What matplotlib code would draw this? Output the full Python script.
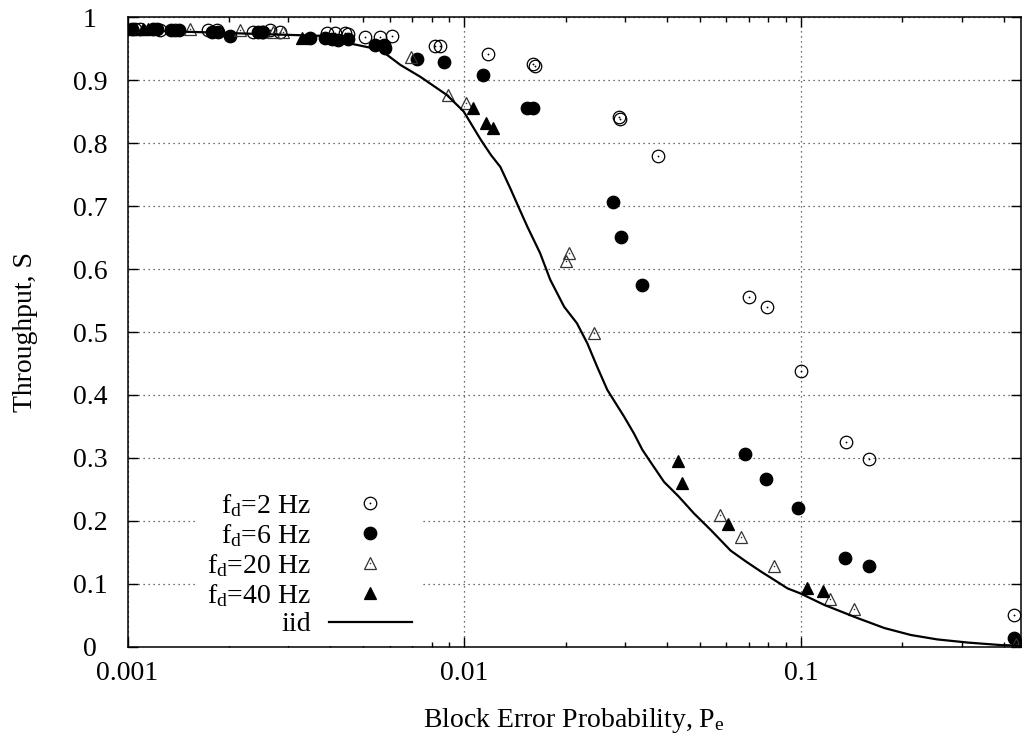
import numpy as np
import matplotlib
matplotlib.use("Agg")
import matplotlib.pyplot as plt
from matplotlib.legend_handler import HandlerTuple
from matplotlib.ticker import LogLocator, NullFormatter, FixedLocator

plt.rcParams['font.family'] = ['Liberation Serif', 'DejaVu Serif']
plt.rcParams['mathtext.fontset'] = 'custom'
plt.rcParams['mathtext.rm'] = 'Liberation Serif'
plt.rcParams['font.size'] = 20

pe_2hz = [0.00105, 0.00109, 0.00125, 0.00138, 0.00173, 0.00184, 0.00236, 0.00251,
          0.00265, 0.00284, 0.00391, 0.00414, 0.00443, 0.00453, 0.00508, 0.00563,
          0.00610, 0.00821, 0.00849, 0.0118, 0.0160, 0.0162, 0.0288, 0.0290,
          0.0377, 0.0703, 0.0791, 0.100, 0.136, 0.159, 0.430]
s_2hz = [0.981, 0.981, 0.979, 0.979, 0.979, 0.979, 0.977, 0.977,
         0.979, 0.977, 0.974, 0.974, 0.974, 0.973, 0.969, 0.969,
         0.970, 0.954, 0.954, 0.941, 0.925, 0.922, 0.842, 0.838,
         0.780, 0.556, 0.539, 0.438, 0.325, 0.298, 0.050]

pe_6hz = [0.00103, 0.00119, 0.00122, 0.00135, 0.00142, 0.00178, 0.00186, 0.00202,
          0.00244, 0.00253, 0.00349, 0.00386, 0.00404, 0.00423, 0.00453, 0.00544,
          0.00576, 0.00582, 0.00724, 0.00868, 0.0114, 0.0154, 0.0160, 0.0277,
          0.0292, 0.0336, 0.0680, 0.0789, 0.0982, 0.135, 0.159, 0.430]
s_6hz = [0.981, 0.981, 0.981, 0.979, 0.979, 0.977, 0.977, 0.970,
         0.976, 0.976, 0.967, 0.966, 0.965, 0.963, 0.965, 0.956,
         0.956, 0.951, 0.934, 0.929, 0.908, 0.856, 0.856, 0.707,
         0.651, 0.575, 0.307, 0.266, 0.220, 0.141, 0.129, 0.014]

pe_20hz = [0.00153, 0.00216, 0.00271, 0.00290, 0.00696, 0.00895, 0.0101, 0.0201,
           0.0205, 0.0243, 0.0573, 0.0662, 0.0831, 0.122, 0.144, 0.436]
s_20hz = [0.981, 0.979, 0.977, 0.977, 0.937, 0.876, 0.863, 0.613,
          0.626, 0.499, 0.209, 0.174, 0.129, 0.076, 0.061, 0.005]

pe_40hz = [0.00100, 0.00111, 0.00115, 0.00330, 0.0106, 0.0116, 0.0122, 0.0431,
           0.0444, 0.0608, 0.104, 0.116, 0.453]
s_40hz = [0.981, 0.981, 0.981, 0.967, 0.855, 0.832, 0.824, 0.295,
          0.260, 0.195, 0.094, 0.089, 0.004]

pe_iid = [0.00100, 0.00164, 0.00248, 0.00381, 0.00458, 0.00563, 0.00646, 0.00741,
          0.00889, 0.00996, 0.0112, 0.0120, 0.0128, 0.0137, 0.0147, 0.0154,
          0.0168, 0.0180, 0.0198, 0.0216, 0.0232, 0.0248, 0.0266, 0.0298,
          0.0319, 0.0338, 0.0357, 0.0392, 0.0433, 0.0481, 0.0539, 0.0618,
          0.0685, 0.0759, 0.0841, 0.0912, 0.0996, 0.117, 0.147, 0.177,
          0.212, 0.254, 0.313, 0.393, 0.450]
s_iid = [0.979, 0.976, 0.973, 0.970, 0.958, 0.948, 0.924, 0.905,
         0.876, 0.850, 0.805, 0.781, 0.762, 0.728, 0.691, 0.667,
         0.625, 0.583, 0.540, 0.514, 0.482, 0.445, 0.408, 0.366,
         0.339, 0.313, 0.294, 0.262, 0.239, 0.212, 0.186, 0.153,
         0.136, 0.120, 0.105, 0.093, 0.085, 0.067, 0.046, 0.030,
         0.019, 0.012, 0.007, 0.003, 0.002]

xticks = [0.001, 0.01, 0.1]
xtick_labels = ['0.001', '0.01', '0.1']
yticks = [0, 0.1, 0.2, 0.3, 0.4, 0.5, 0.6, 0.7, 0.8, 0.9, 1.0]
ytick_labels = ['0', '0.1', '0.2', '0.3', '0.4', '0.5', '0.6', '0.7', '0.8', '0.9', '1']

fig = plt.figure(figsize=(10.26, 7.40), dpi=100)
ax = fig.add_subplot(111)
fig.subplots_adjust(left=0.1243, right=0.9951, bottom=0.1257, top=0.977)

ms = 9
mew = 0.9
h2a, = ax.plot(pe_2hz, s_2hz, 'o', ms=ms, mfc='none', mec='black', mew=mew)
h2b, = ax.plot(pe_2hz, s_2hz, 'o', ms=1.3, mfc='black', mec='black', mew=0)
h6, = ax.plot(pe_6hz, s_6hz, 'o', ms=ms, mfc='black', mec='black', mew=mew)
h20a, = ax.plot(pe_20hz, s_20hz, '^', ms=ms - 0.5, mfc='none', mec='#333333', mew=mew)
h20b, = ax.plot(pe_20hz, s_20hz, 'o', ms=1.1, mfc='#333333', mec='#333333', mew=0)
h40, = ax.plot(pe_40hz, s_40hz, '^', ms=ms - 0.5, mfc='black', mec='black', mew=mew)
hiid, = ax.plot(pe_iid, s_iid, '-', color='black', lw=1.6)

ax.set_xscale('log')
ax.set_xlim(0.001, 0.45)
ax.set_ylim(0, 1)

ax.xaxis.set_major_locator(FixedLocator(xticks))
ax.set_xticklabels(xtick_labels)
ax.xaxis.set_minor_locator(LogLocator(base=10, subs=np.arange(2, 10)))
ax.xaxis.set_minor_formatter(NullFormatter())
ax.set_yticks(yticks)
ax.set_yticklabels(ytick_labels)
for lbl in ax.get_yticklabels():
    lbl.set_horizontalalignment('center')

ax.tick_params(which='both', direction='in', top=True, right=True, width=1)
ax.tick_params(which='major', length=7)
ax.tick_params(which='minor', length=3.6)
ax.tick_params(axis='y', which='major', pad=27)
ax.tick_params(axis='x', which='major', pad=10)

ax.grid(True, which='major', linestyle=(0, (1, 3)), color='0.25', lw=0.9)
ax.set_axisbelow(True)
for sp in ax.spines.values():
    sp.set_linewidth(1.1)

ax.set_xlabel(r'Block Error Probability, $\mathrm{P_e}$')
ax.set_ylabel('Throughput, S')
ax.xaxis.set_label_coords(0.5, -0.093)
ax.yaxis.set_label_coords(-0.100, 0.5)

leg = ax.legend([(h2a, h2b), h6, (h20a, h20b), h40, hiid],
                [r'$\mathrm{f_d}$=2 Hz', r'$\mathrm{f_d}$=6 Hz', r'$\mathrm{f_d}$=20 Hz',
                 r'$\mathrm{f_d}$=40 Hz', 'iid'],
                handler_map={tuple: HandlerTuple(ndivide=1)},
                loc='lower right', bbox_to_anchor=(0.3276, 0.002),
                markerfirst=False, numpoints=1, handlelength=3.0, handletextpad=0.65,
                labelspacing=0.113, borderpad=0.3, borderaxespad=0,
                frameon=True, fancybox=False, framealpha=1, facecolor='white',
                edgecolor='none')

fig.savefig('out.png', dpi=100)
